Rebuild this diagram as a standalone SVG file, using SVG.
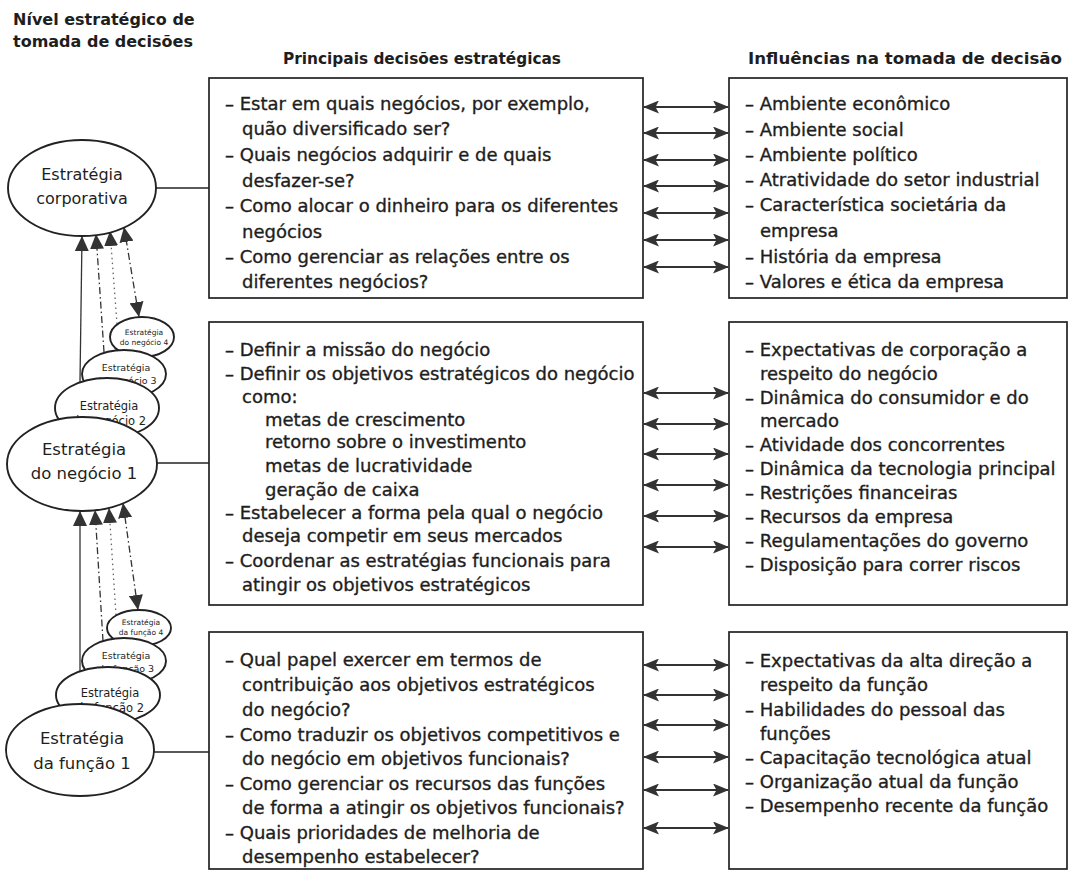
<svg xmlns="http://www.w3.org/2000/svg" width="1070" height="872" viewBox="0 0 1070 872">
  <style>
    .t { font-family: "DejaVu Sans", "Liberation Sans", sans-serif; font-size: 18px; fill: #1e1e1e; stroke: #1e1e1e; stroke-width: 0.35; }
    .h { font-family: "DejaVu Sans", "Liberation Sans", sans-serif; font-size: 16px; font-weight: bold; fill: #1e1e1e; }
    .box { fill: #fff; stroke: #222; stroke-width: 1.7; }
    .ell { fill: #fff; stroke: #222; stroke-width: 1.9; }
    .et { font-family: "DejaVu Sans", "Liberation Sans", sans-serif; fill: #1e1e1e; text-anchor: middle; }
    .link { stroke: #222; stroke-width: 1.5; fill: none; }
    .dbl { stroke: #333; stroke-width: 2.2; marker-start: url(#ah); marker-end: url(#ah); }
    .up { stroke: #333; stroke-width: 1.3; fill: none; marker-end: url(#tri); }
    .dashdot { stroke-dasharray: 7 3 1.5 3; }
    .dotted { stroke-dasharray: 1.5 3.5; stroke: #666; }
  </style>
  <defs>
    <marker id="ah" viewBox="0 0 16 13" refX="15" refY="6.5" markerWidth="16" markerHeight="13" markerUnits="userSpaceOnUse" orient="auto-start-reverse">
      <path d="M0,0 L16,6.5 L0,13 L3.5,6.5 z" fill="#333"/>
    </marker>
    <marker id="tri" viewBox="0 0 15 14" refX="15" refY="7" markerWidth="15" markerHeight="14" markerUnits="userSpaceOnUse" orient="auto-start-reverse">
      <path d="M0,0 L15,7 L0,14 z" fill="#333"/>
    </marker>
  </defs>

  <!-- column headings -->
  <g id="headings">
    <text class="h" x="13" y="25">Nível estratégico de</text>
    <text class="h" x="13" y="47">tomada de decisões</text>
    <text class="h" x="283" y="64" textLength="278" lengthAdjust="spacingAndGlyphs">Principais decisões estratégicas</text>
    <text class="h" x="748" y="64" textLength="314" lengthAdjust="spacingAndGlyphs">Influências na tomada de decisão</text>
  </g>

  <!-- connectors -->
  <g id="connectors">
    <!-- ellipse to box -->
    <line class="link" x1="156" y1="188" x2="209" y2="188"/>
    <line class="link" x1="157" y1="463" x2="209" y2="463"/>
    <line class="link" x1="154" y1="752" x2="209" y2="752"/>

    <!-- business strategies up to corporate strategy -->
    <line class="up" x1="80" y1="382" x2="82" y2="236"/>
    <line class="up dashdot" x1="104" y1="352" x2="96" y2="234"/>
    <line class="up dotted" x1="117" y1="324" x2="110" y2="231"/>
    <line class="up dashdot" x1="139" y1="317" x2="124" y2="227" style="marker-start:url(#tri)"/>

    <!-- function strategies up to business strategy -->
    <line class="up" x1="80" y1="671" x2="80" y2="511"/>
    <line class="up dashdot" x1="103" y1="641" x2="95" y2="510"/>
    <line class="up dotted" x1="116" y1="615" x2="109" y2="508"/>
    <line class="up dashdot" x1="138" y1="610" x2="123" y2="503" style="marker-start:url(#tri)"/>

    <!-- decisions <-> influences -->
    <line class="dbl" x1="644" y1="107" x2="728" y2="107"/>
    <line class="dbl" x1="644" y1="133" x2="728" y2="133"/>
    <line class="dbl" x1="644" y1="160" x2="728" y2="160"/>
    <line class="dbl" x1="644" y1="186" x2="728" y2="186"/>
    <line class="dbl" x1="644" y1="213" x2="728" y2="213"/>
    <line class="dbl" x1="644" y1="240" x2="728" y2="240"/>
    <line class="dbl" x1="644" y1="267" x2="728" y2="267"/>

    <line class="dbl" x1="644" y1="393" x2="728" y2="393"/>
    <line class="dbl" x1="644" y1="424" x2="728" y2="424"/>
    <line class="dbl" x1="644" y1="454" x2="728" y2="454"/>
    <line class="dbl" x1="644" y1="485" x2="728" y2="485"/>
    <line class="dbl" x1="644" y1="516" x2="728" y2="516"/>
    <line class="dbl" x1="644" y1="547" x2="728" y2="547"/>

    <line class="dbl" x1="644" y1="665" x2="728" y2="665"/>
    <line class="dbl" x1="644" y1="695" x2="728" y2="695"/>
    <line class="dbl" x1="644" y1="725" x2="728" y2="725"/>
    <line class="dbl" x1="644" y1="757" x2="728" y2="757"/>
    <line class="dbl" x1="644" y1="790" x2="728" y2="790"/>
    <line class="dbl" x1="644" y1="828" x2="728" y2="828"/>
  </g>

  <!-- corporate level -->
  <g id="corp-strategy">
    <ellipse class="ell" cx="82" cy="188" rx="74" ry="48"/>
    <text class="et" x="82" y="180" font-size="16">Estratégia</text>
    <text class="et" x="82" y="204" font-size="16">corporativa</text>
  </g>

  <!-- business level: units 4..2 behind unit 1 -->
  <g id="business-4">
    <ellipse class="ell" cx="142" cy="337" rx="32" ry="20" stroke-width="1.3"/>
    <text class="et" x="144" y="335" font-size="7.5">Estratégia</text>
    <text class="et" x="144" y="345" font-size="7.5">do negócio 4</text>
  </g>
  <g id="business-3">
    <ellipse class="ell" cx="124" cy="374" rx="42" ry="24" stroke-width="1.5"/>
    <text class="et" x="126" y="371" font-size="9.5">Estratégia</text>
    <text class="et" x="126" y="384" font-size="9.5">do negócio 3</text>
  </g>
  <g id="business-2">
    <ellipse class="ell" cx="107" cy="408" rx="52" ry="30" stroke-width="1.6"/>
    <text class="et" x="109" y="410" font-size="11.5">Estratégia</text>
    <text class="et" x="109" y="425" font-size="11.5">do negócio 2</text>
  </g>
  <g id="business-1">
    <ellipse class="ell" cx="82" cy="464" rx="75" ry="47"/>
    <text class="et" x="84" y="455" font-size="16.5">Estratégia</text>
    <text class="et" x="84" y="479" font-size="16.5">do negócio 1</text>
  </g>

  <!-- function level: functions 4..2 behind function 1 -->
  <g id="function-4">
    <ellipse class="ell" cx="139" cy="628" rx="32" ry="18" stroke-width="1.3"/>
    <text class="et" x="141" y="625" font-size="7.5">Estratégia</text>
    <text class="et" x="141" y="635" font-size="7.5">da função 4</text>
  </g>
  <g id="function-3">
    <ellipse class="ell" cx="124" cy="661" rx="42" ry="23" stroke-width="1.5"/>
    <text class="et" x="126" y="659" font-size="9.5">Estratégia</text>
    <text class="et" x="126" y="672" font-size="9.5">da função 3</text>
  </g>
  <g id="function-2">
    <ellipse class="ell" cx="108" cy="695" rx="52" ry="28" stroke-width="1.6"/>
    <text class="et" x="110" y="697" font-size="11.5">Estratégia</text>
    <text class="et" x="110" y="712" font-size="11.5">da função 2</text>
  </g>
  <g id="function-1">
    <ellipse class="ell" cx="80" cy="750" rx="74" ry="46"/>
    <text class="et" x="82" y="744" font-size="16.5">Estratégia</text>
    <text class="et" x="82" y="769" font-size="16.5">da função 1</text>
  </g>

  <!-- corporate decisions -->
  <g id="corp-decisions">
    <rect class="box" x="209" y="78" width="434" height="220"/>
    <text class="t" x="225" y="110">– Estar em quais negócios, por exemplo,</text>
    <text class="t" x="242" y="135">quão diversificado ser?</text>
    <text class="t" x="225" y="161">– Quais negócios adquirir e de quais</text>
    <text class="t" x="242" y="187">desfazer-se?</text>
    <text class="t" x="225" y="212">– Como alocar o dinheiro para os diferentes</text>
    <text class="t" x="242" y="238">negócios</text>
    <text class="t" x="225" y="263">– Como gerenciar as relações entre os</text>
    <text class="t" x="242" y="288">diferentes negócios?</text>
  </g>
  <g id="corp-influences">
    <rect class="box" x="729" y="78" width="338" height="220"/>
    <text class="t" x="745" y="110">– Ambiente econômico</text>
    <text class="t" x="745" y="136">– Ambiente social</text>
    <text class="t" x="745" y="161">– Ambiente político</text>
    <text class="t" x="745" y="186">– Atratividade do setor industrial</text>
    <text class="t" x="745" y="211">– Característica societária da</text>
    <text class="t" x="760" y="237">empresa</text>
    <text class="t" x="745" y="263">– História da empresa</text>
    <text class="t" x="745" y="288">– Valores e ética da empresa</text>
  </g>

  <!-- business decisions -->
  <g id="business-decisions">
    <rect class="box" x="209" y="322" width="434" height="283"/>
    <text class="t" x="225" y="356">– Definir a missão do negócio</text>
    <text class="t" x="225" y="380">– Definir os objetivos estratégicos do negócio</text>
    <text class="t" x="242" y="403">como:</text>
    <text class="t" x="265" y="426">metas de crescimento</text>
    <text class="t" x="265" y="448">retorno sobre o investimento</text>
    <text class="t" x="265" y="472">metas de lucratividade</text>
    <text class="t" x="265" y="496">geração de caixa</text>
    <text class="t" x="225" y="519">– Estabelecer a forma pela qual o negócio</text>
    <text class="t" x="242" y="542">deseja competir em seus mercados</text>
    <text class="t" x="225" y="567">– Coordenar as estratégias funcionais para</text>
    <text class="t" x="242" y="591">atingir os objetivos estratégicos</text>
  </g>
  <g id="business-influences">
    <rect class="box" x="729" y="322" width="338" height="283"/>
    <text class="t" x="745" y="356">– Expectativas de corporação a</text>
    <text class="t" x="760" y="380">respeito do negócio</text>
    <text class="t" x="745" y="404">– Dinâmica do consumidor e do</text>
    <text class="t" x="760" y="427">mercado</text>
    <text class="t" x="745" y="451">– Atividade dos concorrentes</text>
    <text class="t" x="745" y="475">– Dinâmica da tecnologia principal</text>
    <text class="t" x="745" y="499">– Restrições financeiras</text>
    <text class="t" x="745" y="523">– Recursos da empresa</text>
    <text class="t" x="745" y="547">– Regulamentações do governo</text>
    <text class="t" x="745" y="571">– Disposição para correr riscos</text>
  </g>

  <!-- function decisions -->
  <g id="function-decisions">
    <rect class="box" x="209" y="632" width="434" height="237"/>
    <text class="t" x="225" y="666">– Qual papel exercer em termos de</text>
    <text class="t" x="242" y="691">contribuição aos objetivos estratégicos</text>
    <text class="t" x="242" y="716">do negócio?</text>
    <text class="t" x="225" y="741">– Como traduzir os objetivos competitivos e</text>
    <text class="t" x="242" y="765">do negócio em objetivos funcionais?</text>
    <text class="t" x="225" y="790">– Como gerenciar os recursos das funções</text>
    <text class="t" x="242" y="814">de forma a atingir os objetivos funcionais?</text>
    <text class="t" x="225" y="839">– Quais prioridades de melhoria de</text>
    <text class="t" x="242" y="863">desempenho estabelecer?</text>
  </g>
  <g id="function-influences">
    <rect class="box" x="729" y="632" width="338" height="237"/>
    <text class="t" x="745" y="667">– Expectativas da alta direção a</text>
    <text class="t" x="760" y="691">respeito da função</text>
    <text class="t" x="745" y="716">– Habilidades do pessoal das</text>
    <text class="t" x="760" y="740">funções</text>
    <text class="t" x="745" y="764">– Capacitação tecnológica atual</text>
    <text class="t" x="745" y="788">– Organização atual da função</text>
    <text class="t" x="745" y="812">– Desempenho recente da função</text>
  </g>
</svg>
